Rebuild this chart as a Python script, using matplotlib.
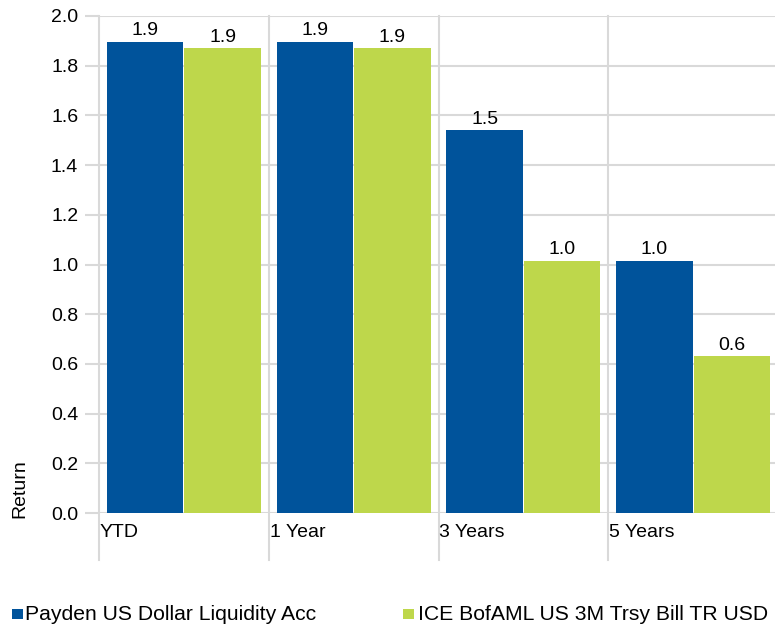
import numpy as np
import matplotlib
matplotlib.use('Agg')
import matplotlib.pyplot as plt
from matplotlib.patches import Rectangle

plt.rcParams['font.family'] = ['Liberation Sans', 'DejaVu Sans']

categories = ['YTD', '1 Year', '3 Years', '5 Years']
payden = [1.895, 1.895, 1.54, 1.015]
ice = [1.87, 1.87, 1.015, 0.63]
series_names = ['Payden US Dollar Liquidity Acc', 'ICE BofAML US 3M Trsy Bill TR USD']
blue = '#00539B'
green = '#BED74B'
grid_c = '#D9D9D9'
W, H = 775, 629

fig = plt.figure(figsize=(W/100, H/100), dpi=100)
ax = fig.add_axes([99/W, (H-513)/H, 679/W, 497/H])

x = np.arange(len(categories))
w = 0.45
b1 = ax.bar(x + 0.272, payden, w, color=blue, zorder=3)
b2 = ax.bar(x + 0.728, ice, w, color=green, zorder=3)

for bars, vals in [(b1, payden), (b2, ice)]:
    for r, v in zip(bars, vals):
        ax.annotate('%.1f' % v, (r.get_x() + r.get_width()/2, v), xytext=(0, 2),
                    textcoords='offset points', ha='center', va='bottom', fontsize=14)

ax.set_xlim(0, 4)
ax.set_ylim(0, 2.0)
ticks = np.arange(0, 2.01, 0.2)
ax.set_yticks(ticks)
ax.set_yticklabels(['%.1f' % t for t in ticks], fontsize=14)
ax.tick_params(axis='y', length=10, color=grid_c, width=1.5, pad=5)
ax.set_xticks([])
ax.grid(axis='y', color=grid_c, linewidth=1.5, zorder=0)
for s in ax.spines.values():
    s.set_visible(False)

# category separators running below the axis
for i in range(len(categories) + 1):
    ax.plot([i, i], [-0.095, 1], transform=ax.get_xaxis_transform(), color=grid_c,
            linewidth=1.5, clip_on=False, zorder=1)
for i, c in enumerate(categories):
    ax.text(i + 0.005, -0.04, c, transform=ax.get_xaxis_transform(), ha='left', va='center', fontsize=14)

fig.text(20/W, (H-518)/H, 'Return', rotation=90, ha='center', va='bottom', fontsize=14)

# legend
for (sx, tx), col, name in zip([(12, 25), (403, 418)], [blue, green], series_names):
    fig.add_artist(Rectangle((sx/W, (H-619)/H), 11/W, 10/H, transform=fig.transFigure,
                             facecolor=col, edgecolor='none'))
    fig.text(tx/W, (H-615)/H, name, ha='left', va='center', fontsize=15.2)

fig.savefig('out.png', dpi=100)
